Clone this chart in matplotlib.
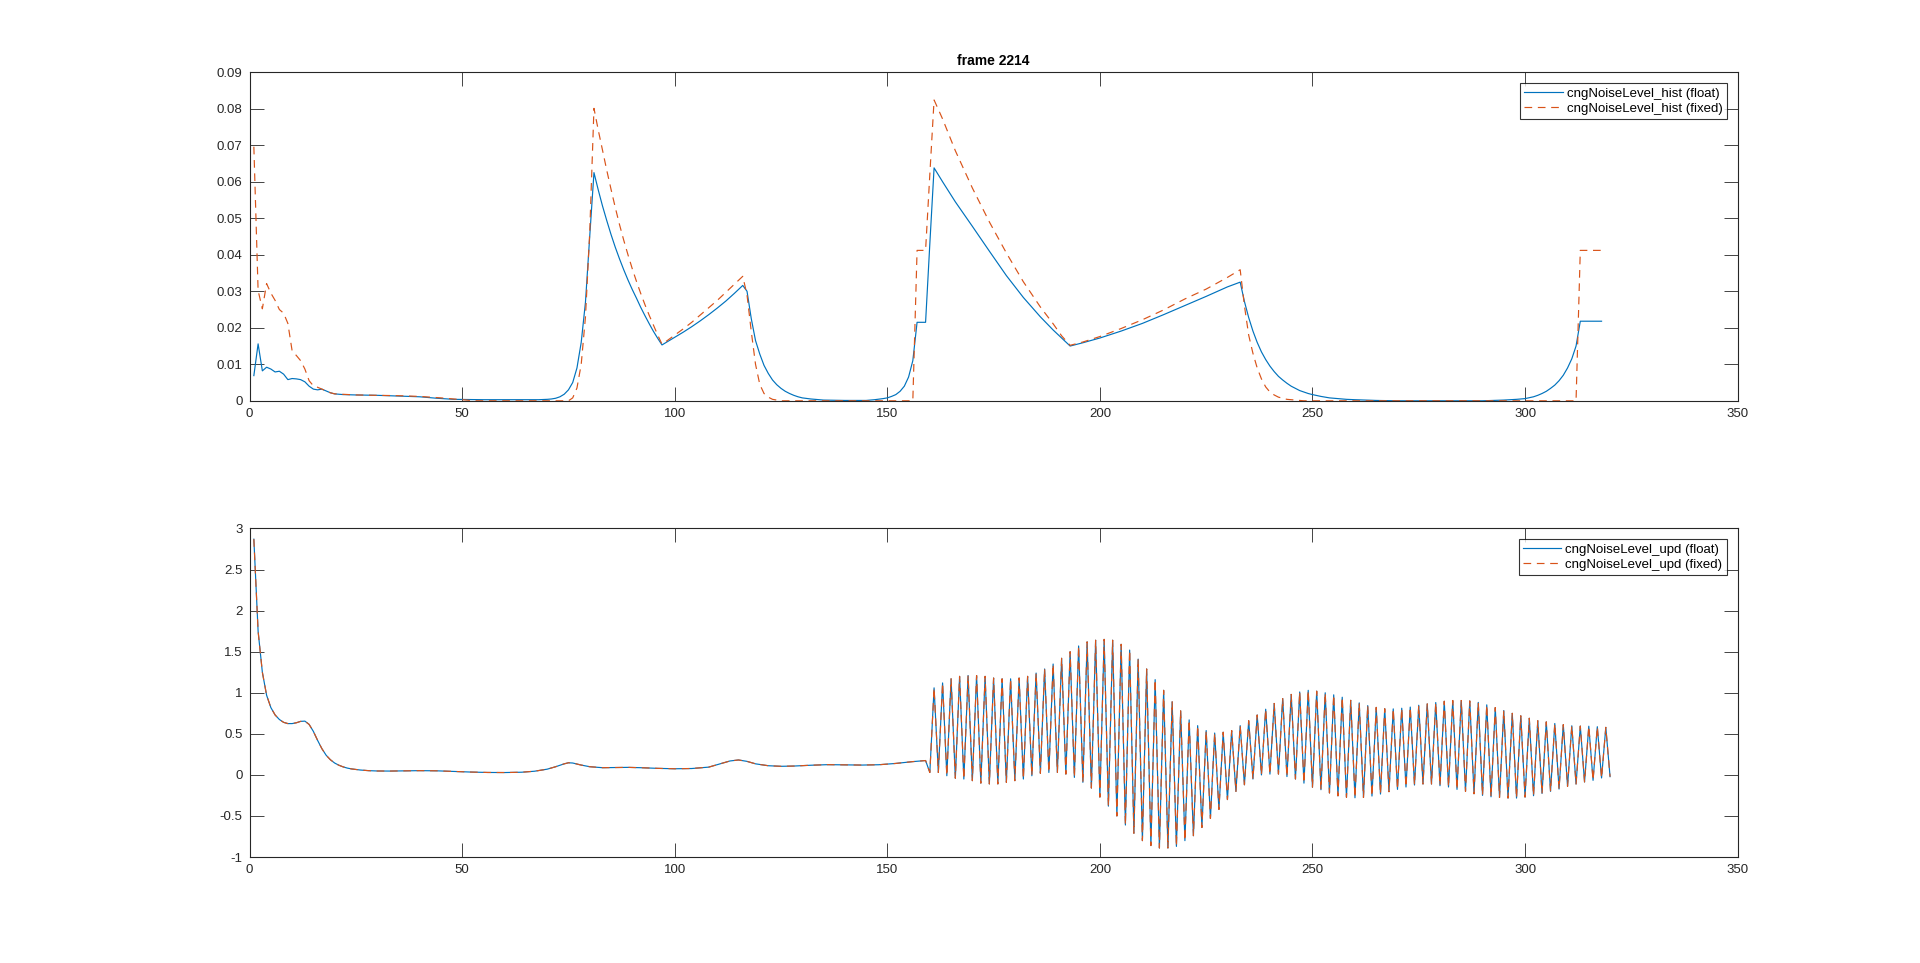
import matplotlib
matplotlib.use("Agg")
import matplotlib.pyplot as plt
from matplotlib.ticker import FuncFormatter, MultipleLocator

plt.rcParams['font.family'] = ['Liberation Sans', 'DejaVu Sans']

# ---------------- data: top panel (cngNoiseLevel_hist) ----------------
hist_float_x = [1, 2, 3, 4, 5, 6, 7, 8, 9, 10, 11, 12, 13, 14, 15, 16, 17, 18, 19, 20,
                22, 25, 30, 35, 40, 44, 48, 55, 62, 68, 70, 71, 72, 73, 74, 75, 76, 77, 78, 79, 80,
                81, 82, 83, 84, 85, 86, 87, 88, 89, 90, 91, 92, 93, 94, 95, 96, 97,
                98, 100, 102, 104, 106, 108, 110, 112, 114, 116, 117, 118, 119, 120, 121, 122,
                123, 124, 125, 126, 127, 128, 129, 130, 132, 135, 140, 145, 147, 149, 150, 151,
                152, 153, 154, 155, 156, 157, 158, 159, 160, 161, 163, 166, 170, 174, 178, 182,
                186, 189, 191, 193, 196, 200, 205, 210, 215, 220, 225, 230, 233, 234, 235,
                236, 237, 238, 239, 240, 241, 242, 243, 244, 245, 246, 247, 248, 249, 250, 252,
                254, 256, 258, 260, 265, 270, 290, 295, 298, 300, 302, 303, 304, 305, 306, 307,
                308, 309, 310, 311, 312, 313, 318]
hist_float = [0.0069, 0.0156, 0.0082, 0.0092, 0.0087, 0.0079, 0.0081, 0.0073, 0.0058, 0.0061,
              0.0060, 0.0058, 0.0052, 0.0040, 0.0032, 0.0030, 0.0032, 0.0027, 0.0022, 0.0019,
              0.0017, 0.0016, 0.0015, 0.0013, 0.0011, 0.0007, 0.0004, 0.0003, 0.0003, 0.0003,
              0.0004, 0.0005, 0.0007, 0.0011, 0.0018, 0.0030, 0.0050, 0.0090, 0.0160, 0.0270,
              0.0450, 0.0625, 0.0578, 0.0534, 0.0494, 0.0456, 0.0421, 0.0389, 0.0359, 0.0331,
              0.0305, 0.0281, 0.0256, 0.0233, 0.0211, 0.0190, 0.0171, 0.0153,
              0.0160, 0.0174, 0.0188, 0.0203, 0.0219, 0.0236, 0.0254, 0.0273, 0.0294, 0.0316,
              0.0300, 0.0225, 0.0165, 0.0128, 0.0097, 0.0075, 0.0057, 0.0044, 0.0034, 0.0026,
              0.0020, 0.0015, 0.0011, 0.0008, 0.0005, 0.0002, 0.0001, 0.0001, 0.0003, 0.0006,
              0.0008, 0.0012, 0.0017, 0.0026, 0.0040, 0.0065, 0.0110, 0.0215, 0.0215, 0.0215,
              0.0430, 0.0638, 0.0600, 0.0545, 0.0478, 0.0410, 0.0343, 0.0283, 0.0230, 0.0194,
              0.0172, 0.0150, 0.0159, 0.0172, 0.0191, 0.0212, 0.0236, 0.0261, 0.0286,
              0.0312, 0.0325, 0.0272, 0.0228, 0.0191, 0.0160, 0.0134, 0.0113, 0.0095, 0.0080,
              0.0067, 0.0057, 0.0048, 0.0040, 0.0034, 0.0028, 0.0024, 0.0020, 0.0017, 0.0012,
              0.0008, 0.0006, 0.0004, 0.0003, 0.0001, 0.0, 0.0, 0.0002, 0.0004, 0.0006, 0.0011,
              0.0015, 0.0020, 0.0026, 0.0034, 0.0043, 0.0055, 0.0070, 0.0090, 0.0115, 0.0150,
              0.0218, 0.0218]

hist_fixed_x = [1, 2, 3, 4, 5, 6, 7, 8, 9, 10, 11, 12, 13, 14, 15, 16, 17, 18, 19, 20,
                25, 30, 35, 40, 45, 50, 53, 75, 76, 77, 78, 79, 80, 81, 82, 83, 84, 85, 86, 87,
                88, 89, 90, 91, 92, 93, 94, 95, 96, 97, 98, 100, 102, 104, 106, 108, 110, 112,
                114, 116, 117, 118, 119, 120, 121, 122, 123, 124, 125, 156, 157, 159, 160, 161,
                163, 166, 170, 174, 178, 182, 186, 189, 191, 193, 196, 200, 205, 210, 215,
                220, 225, 230, 233, 234, 235, 236, 237, 238, 239, 240, 241, 242, 243, 244, 246,
                248, 312, 313, 318]
hist_fixed = [0.0696, 0.0302, 0.0252, 0.0321, 0.0295, 0.0275, 0.0250, 0.0240, 0.0212, 0.0137,
              0.0124, 0.0110, 0.0087, 0.0055, 0.0041, 0.0037, 0.0032, 0.0027, 0.0022, 0.0019,
              0.0016, 0.0015, 0.0014, 0.0012, 0.0008, 0.0003, 0.0, 0.0, 0.0008, 0.0035, 0.0100,
              0.0230, 0.0460, 0.0801, 0.0742, 0.0687, 0.0632, 0.0580, 0.0530, 0.0483, 0.0440,
              0.0400, 0.0362, 0.0327, 0.0294, 0.0263, 0.0234, 0.0207, 0.0180, 0.0155, 0.0163,
              0.0180, 0.0197, 0.0215, 0.0235, 0.0255, 0.0275, 0.0297, 0.0319, 0.0341, 0.0290,
              0.0190, 0.0100, 0.0045, 0.0020, 0.0010, 0.0004, 0.0002, 0.0, 0.0, 0.0412, 0.0412,
              0.0620, 0.0824, 0.0772, 0.0685, 0.0583, 0.0490, 0.0405, 0.0326, 0.0257, 0.0211,
              0.0178, 0.0152, 0.0161, 0.0176, 0.0198, 0.0222, 0.0249, 0.0279, 0.0306,
              0.0338, 0.0359, 0.0260, 0.0180, 0.0130, 0.0090, 0.0060, 0.0038, 0.0024, 0.0016,
              0.0010, 0.0007, 0.0004, 0.0002, 0.0, 0.0, 0.0412, 0.0412]

# ---------------- data: bottom panel (cngNoiseLevel_upd) ----------------
upd_x = [1, 2, 3, 4, 5, 6, 7, 8, 9, 10, 11, 12, 13, 14, 15, 16, 17, 18, 19, 20, 21, 22, 23, 24,
         26, 28, 30, 33, 36, 40, 44, 48, 52, 56, 60, 64, 67, 70, 72, 74, 75, 76, 78, 80, 83, 86,
         89, 92, 96, 100, 104, 108, 111, 113, 115, 117, 119, 122, 125, 128, 132, 136, 140, 144,
         148, 152, 156, 159] + list(range(160, 321))
upd_float = [2.87, 1.75, 1.25, 0.97, 0.82, 0.73, 0.675, 0.64, 0.625, 0.625, 0.635, 0.652, 0.655,
             0.615, 0.53, 0.42, 0.32, 0.24, 0.185, 0.145, 0.118, 0.098, 0.083, 0.073,
             0.060, 0.052, 0.048, 0.047, 0.049, 0.052, 0.050, 0.042, 0.035, 0.030, 0.029, 0.033,
             0.045, 0.070, 0.100, 0.135, 0.148, 0.145, 0.120, 0.100, 0.088, 0.090, 0.092, 0.088,
             0.080, 0.075, 0.078, 0.095, 0.140, 0.170, 0.182, 0.165, 0.135, 0.112, 0.105, 0.108,
             0.118, 0.125, 0.122, 0.120, 0.124, 0.140, 0.162, 0.175,
             # 160 .. 320
             0.03, 1.06, 0.03, 1.12, -0.01, 1.17, -0.04, 1.20, -0.05, 1.21,
             -0.07, 1.21, -0.10, 1.20, -0.11, 1.18, -0.11, 1.17, -0.09, 1.17,
             -0.07, 1.18, -0.05, 1.20, -0.01, 1.24, 0.02, 1.29, 0.03, 1.35,
             0.03, 1.42, 0.01, 1.50, -0.03, 1.57, -0.09, 1.62, -0.16, 1.64,
             -0.27, 1.65, -0.38, 1.64, -0.50, 1.59, -0.61, 1.52, -0.71, 1.41,
             -0.80, 1.29, -0.86, 1.16, -0.89, 1.03, -0.89, 0.89, -0.87, 0.78,
             -0.80, 0.67, -0.74, 0.60, -0.64, 0.54, -0.53, 0.51, -0.42, 0.52,
             -0.30, 0.54, -0.20, 0.60, -0.12, 0.66, -0.05, 0.73, 0.00, 0.80,
             0.01, 0.87, 0.01, 0.93, -0.02, 0.98, -0.05, 1.01, -0.10, 1.03,
             -0.15, 1.02, -0.18, 1.00, -0.22, 0.975, -0.255, 0.946, -0.272, 0.908,
             -0.278, 0.877, -0.274, 0.844, -0.257, 0.822, -0.233, 0.806, -0.204, 0.804,
             -0.176, 0.812, -0.147, 0.826, -0.123, 0.848, -0.111, 0.865, -0.111, 0.881,
             -0.131, 0.897, -0.147, 0.906, -0.176, 0.906, -0.200, 0.901, -0.229, 0.883,
             -0.249, 0.853, -0.266, 0.82, -0.274, 0.784, -0.282, 0.75, -0.282, 0.72,
             -0.270, 0.69, -0.253, 0.66, -0.225, 0.646, -0.200, 0.626, -0.172, 0.612,
             -0.139, 0.598, -0.111, 0.595, -0.086, 0.593, -0.066, 0.587, -0.037, 0.579,
             -0.021]
# the fixed-point trace coincides with the float trace at this scale
upd_fixed = list(upd_float)

title_text = "frame 2214"
hist_labels = ["cngNoiseLevel_hist (float)", "cngNoiseLevel_hist (fixed)"]
upd_labels = ["cngNoiseLevel_upd (float)", "cngNoiseLevel_upd (fixed)"]

# ---------------- style ----------------
BLUE = "#0072BD"
ORANGE = "#D95319"
AXC = "#262626"
FS = 9.5
LW = 0.85

fig = plt.figure(figsize=(19.2, 9.63), dpi=100)
ax1 = fig.add_axes([0.13, 0.5838, 0.775, 0.3412])
ax2 = fig.add_axes([0.13, 0.11, 0.775, 0.3412])


def fmt(v, pos):
    s = "%g" % round(v, 6)
    return "0" if s in ("-0", "0") else s


def style(ax, ymin, ymax, ystep):
    ax.set_xlim(0, 350)
    ax.set_ylim(ymin, ymax)
    ax.xaxis.set_major_locator(MultipleLocator(50))
    ax.yaxis.set_major_locator(MultipleLocator(ystep))
    ax.xaxis.set_major_formatter(FuncFormatter(fmt))
    ax.yaxis.set_major_formatter(FuncFormatter(fmt))
    ax.tick_params(direction="in", length=10, width=0.6, color=AXC,
                   top=True, right=True, labelsize=FS, labelcolor=AXC, pad=5)
    for sp in ax.spines.values():
        sp.set_color(AXC)
        sp.set_linewidth(0.8)


dash = (0, (6.5, 4.8))

ax1.plot(hist_float_x, hist_float, color=BLUE, lw=LW, label=hist_labels[0])
ax1.plot(hist_fixed_x, hist_fixed, color=ORANGE, lw=LW, linestyle=dash, label=hist_labels[1])
style(ax1, 0, 0.09, 0.01)
ax1.set_title(title_text, fontsize=10, fontweight="bold", color="black", pad=5)

ax2.plot(upd_x, upd_float, color=BLUE, lw=LW, label=upd_labels[0])
ax2.plot(upd_x, upd_fixed, color=ORANGE, lw=LW, linestyle=dash, label=upd_labels[1])
style(ax2, -1, 3, 0.5)

for ax in (ax1, ax2):
    leg = ax.legend(loc="upper right", fontsize=FS, frameon=True, fancybox=False,
                    handlelength=2.9, handletextpad=0.3, borderpad=0.35, labelspacing=0.2,
                    borderaxespad=0.8)
    leg.get_frame().set_edgecolor("black")
    leg.get_frame().set_linewidth(0.8)

fig.savefig("out.png", dpi=100, facecolor="white")
